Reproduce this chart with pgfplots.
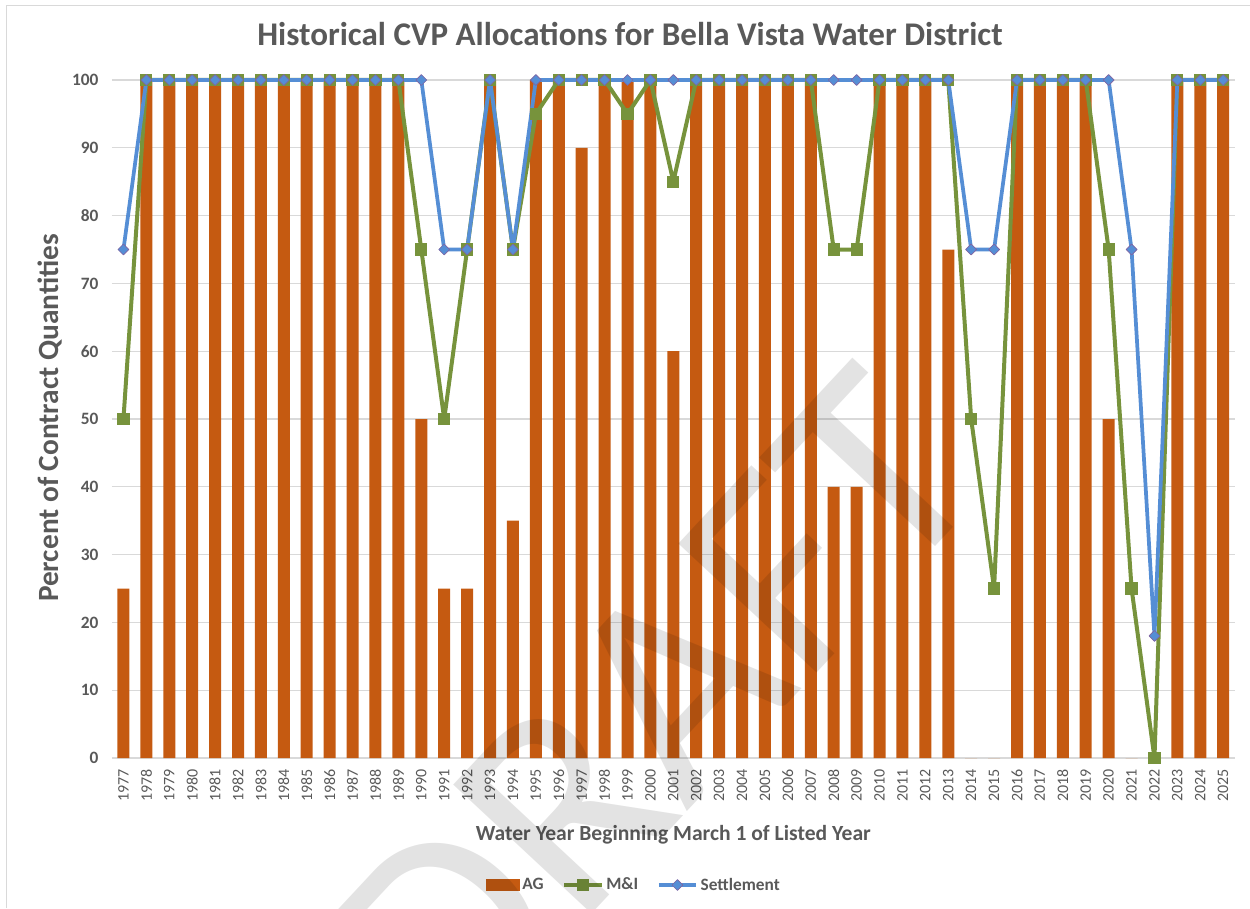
\documentclass[border=0pt]{standalone}
\usepackage{pgfplots}
\pgfplotsset{compat=1.18}
\usepackage{fontspec}
\setmainfont{Carlito}
\definecolor{agc}{HTML}{C55A11}
\definecolor{mic}{HTML}{77933C}
\definecolor{stc}{HTML}{558ED5}
\definecolor{stedge}{HTML}{8064A2}
\definecolor{gridc}{HTML}{D9D9D9}
\definecolor{txtc}{HTML}{595959}
\pgfplotsset{mylineleg/.style={legend image code/.code={\draw[mark repeat=2,mark phase=2,##1] plot coordinates {(0pt,0pt) (14pt,0pt) (28pt,0pt)};}}}
\begin{document}
\begin{tikzpicture}
\begin{axis}[name=ax, at={(0,0)}, anchor=south west,
 scale only axis, width=842pt, height=508.5pt,
 xmin=1976.5, xmax=2025.5, ymin=0, ymax=100,
 xtick={1977,...,2025}, ytick={0,10,...,100},
 /pgf/number format/assume math mode=true, /pgf/number format/1000 sep={},
 ymajorgrids, grid style={gridc, line width=1pt},
 axis x line*=bottom, axis y line*=left, axis line style={-},
 x axis line style={gridc, line width=1pt}, y axis line style={draw=none},
 tick style={draw=none}, major tick length=0pt,
 xticklabel style={rotate=90, anchor=east, inner sep=0pt, inner xsep=8pt, font=\fontsize{12}{12}\selectfont, text=txtc},
 yticklabel style={anchor=east, inner sep=0pt, inner xsep=10pt, font=\bfseries\fontsize{13}{13}\selectfont, text=txtc},
 clip=false,
 title={Historical CVP Allocations for Bella Vista Water District},
 title style={at={(0.4614,1.056)}, anchor=center, font=\bfseries\fontsize{24.8}{24.8}\selectfont, text=txtc},
 xlabel={Water Year Beginning March 1 of Listed Year},
 xlabel style={at={(0.5,-0.1136)}, anchor=center, font=\bfseries\fontsize{16.2}{16.2}\selectfont, text=txtc},
 ylabel={Percent of Contract Quantities},
 ylabel style={at={(-0.0552,0.5015)}, anchor=center, rotate=0, font=\bfseries\fontsize{22}{22}\selectfont, text=txtc},
 legend columns=3,
 legend style={at={(0.465,-0.1873)}, anchor=center, draw=none, fill=none,
   font=\bfseries\fontsize{13}{13}\selectfont, text=txtc,
   /tikz/every even column/.append style={column sep=12pt}},
]
\addplot[ybar, bar width=9pt, fill=agc, draw=none,
  legend image code/.code={\fill[agc] (0pt,-4.5pt) rectangle (25.5pt,4.5pt);}]
 coordinates {(1977,25)(1978,100)(1979,100)(1980,100)(1981,100)(1982,100)(1983,100)(1984,100)(1985,100)(1986,100)(1987,100)(1988,100)(1989,100)(1990,50)(1991,25)(1992,25)(1993,100)(1994,35)(1995,100)(1996,100)(1997,90)(1998,100)(1999,100)(2000,100)(2001,60)(2002,100)(2003,100)(2004,100)(2005,100)(2006,100)(2007,100)(2008,40)(2009,40)(2010,100)(2011,100)(2012,100)(2013,75)(2014,0)(2015,0)(2016,100)(2017,100)(2018,100)(2019,100)(2020,50)(2021,0)(2022,0)(2023,100)(2024,100)(2025,100)};
\addlegendentry{AG}
\addplot[mic, line width=3pt, line join=round, mark=square*, mark size=4.2pt,
  mark options={solid, fill=mic, draw=mic, line width=0pt}, mylineleg]
 coordinates {(1977,50)(1978,100)(1979,100)(1980,100)(1981,100)(1982,100)(1983,100)(1984,100)(1985,100)(1986,100)(1987,100)(1988,100)(1989,100)(1990,75)(1991,50)(1992,75)(1993,100)(1994,75)(1995,95)(1996,100)(1997,100)(1998,100)(1999,95)(2000,100)(2001,85)(2002,100)(2003,100)(2004,100)(2005,100)(2006,100)(2007,100)(2008,75)(2009,75)(2010,100)(2011,100)(2012,100)(2013,100)(2014,50)(2015,25)(2016,100)(2017,100)(2018,100)(2019,100)(2020,75)(2021,25)(2022,0)(2023,100)(2024,100)(2025,100)};
\addlegendentry{M\&I}
\addplot[stc, line width=2.8pt, line join=round, mark=square*, mark size=2.9pt,
  mark options={solid, rotate=45, fill=stc, draw=stedge, line width=0.5pt}, mylineleg]
 coordinates {(1977,75)(1978,100)(1979,100)(1980,100)(1981,100)(1982,100)(1983,100)(1984,100)(1985,100)(1986,100)(1987,100)(1988,100)(1989,100)(1990,100)(1991,75)(1992,75)(1993,100)(1994,75)(1995,100)(1996,100)(1997,100)(1998,100)(1999,100)(2000,100)(2001,100)(2002,100)(2003,100)(2004,100)(2005,100)(2006,100)(2007,100)(2008,100)(2009,100)(2010,100)(2011,100)(2012,100)(2013,100)(2014,75)(2015,75)(2016,100)(2017,100)(2018,100)(2019,100)(2020,100)(2021,75)(2022,18)(2023,100)(2024,100)(2025,100)};
\addlegendentry{Settlement}
\end{axis}
\node[rotate=47, text=black, text opacity=0.11, inner sep=0pt, font=\fontsize{221}{221}\selectfont]
  at ([shift={(407pt,37pt)}]ax.south west) {DRAFT};
\draw[gridc, line width=0.75pt] ([shift={(-78.75pt,-112.5pt)}]ax.south west) |- ([shift={(853.5pt,564pt)}]ax.south west);
\pgfresetboundingbox
\path[use as bounding box] ([shift={(-84pt,-112.5pt)}]ax.south west) rectangle ([shift={(853.5pt,568.5pt)}]ax.south west);
\end{tikzpicture}
\end{document}
